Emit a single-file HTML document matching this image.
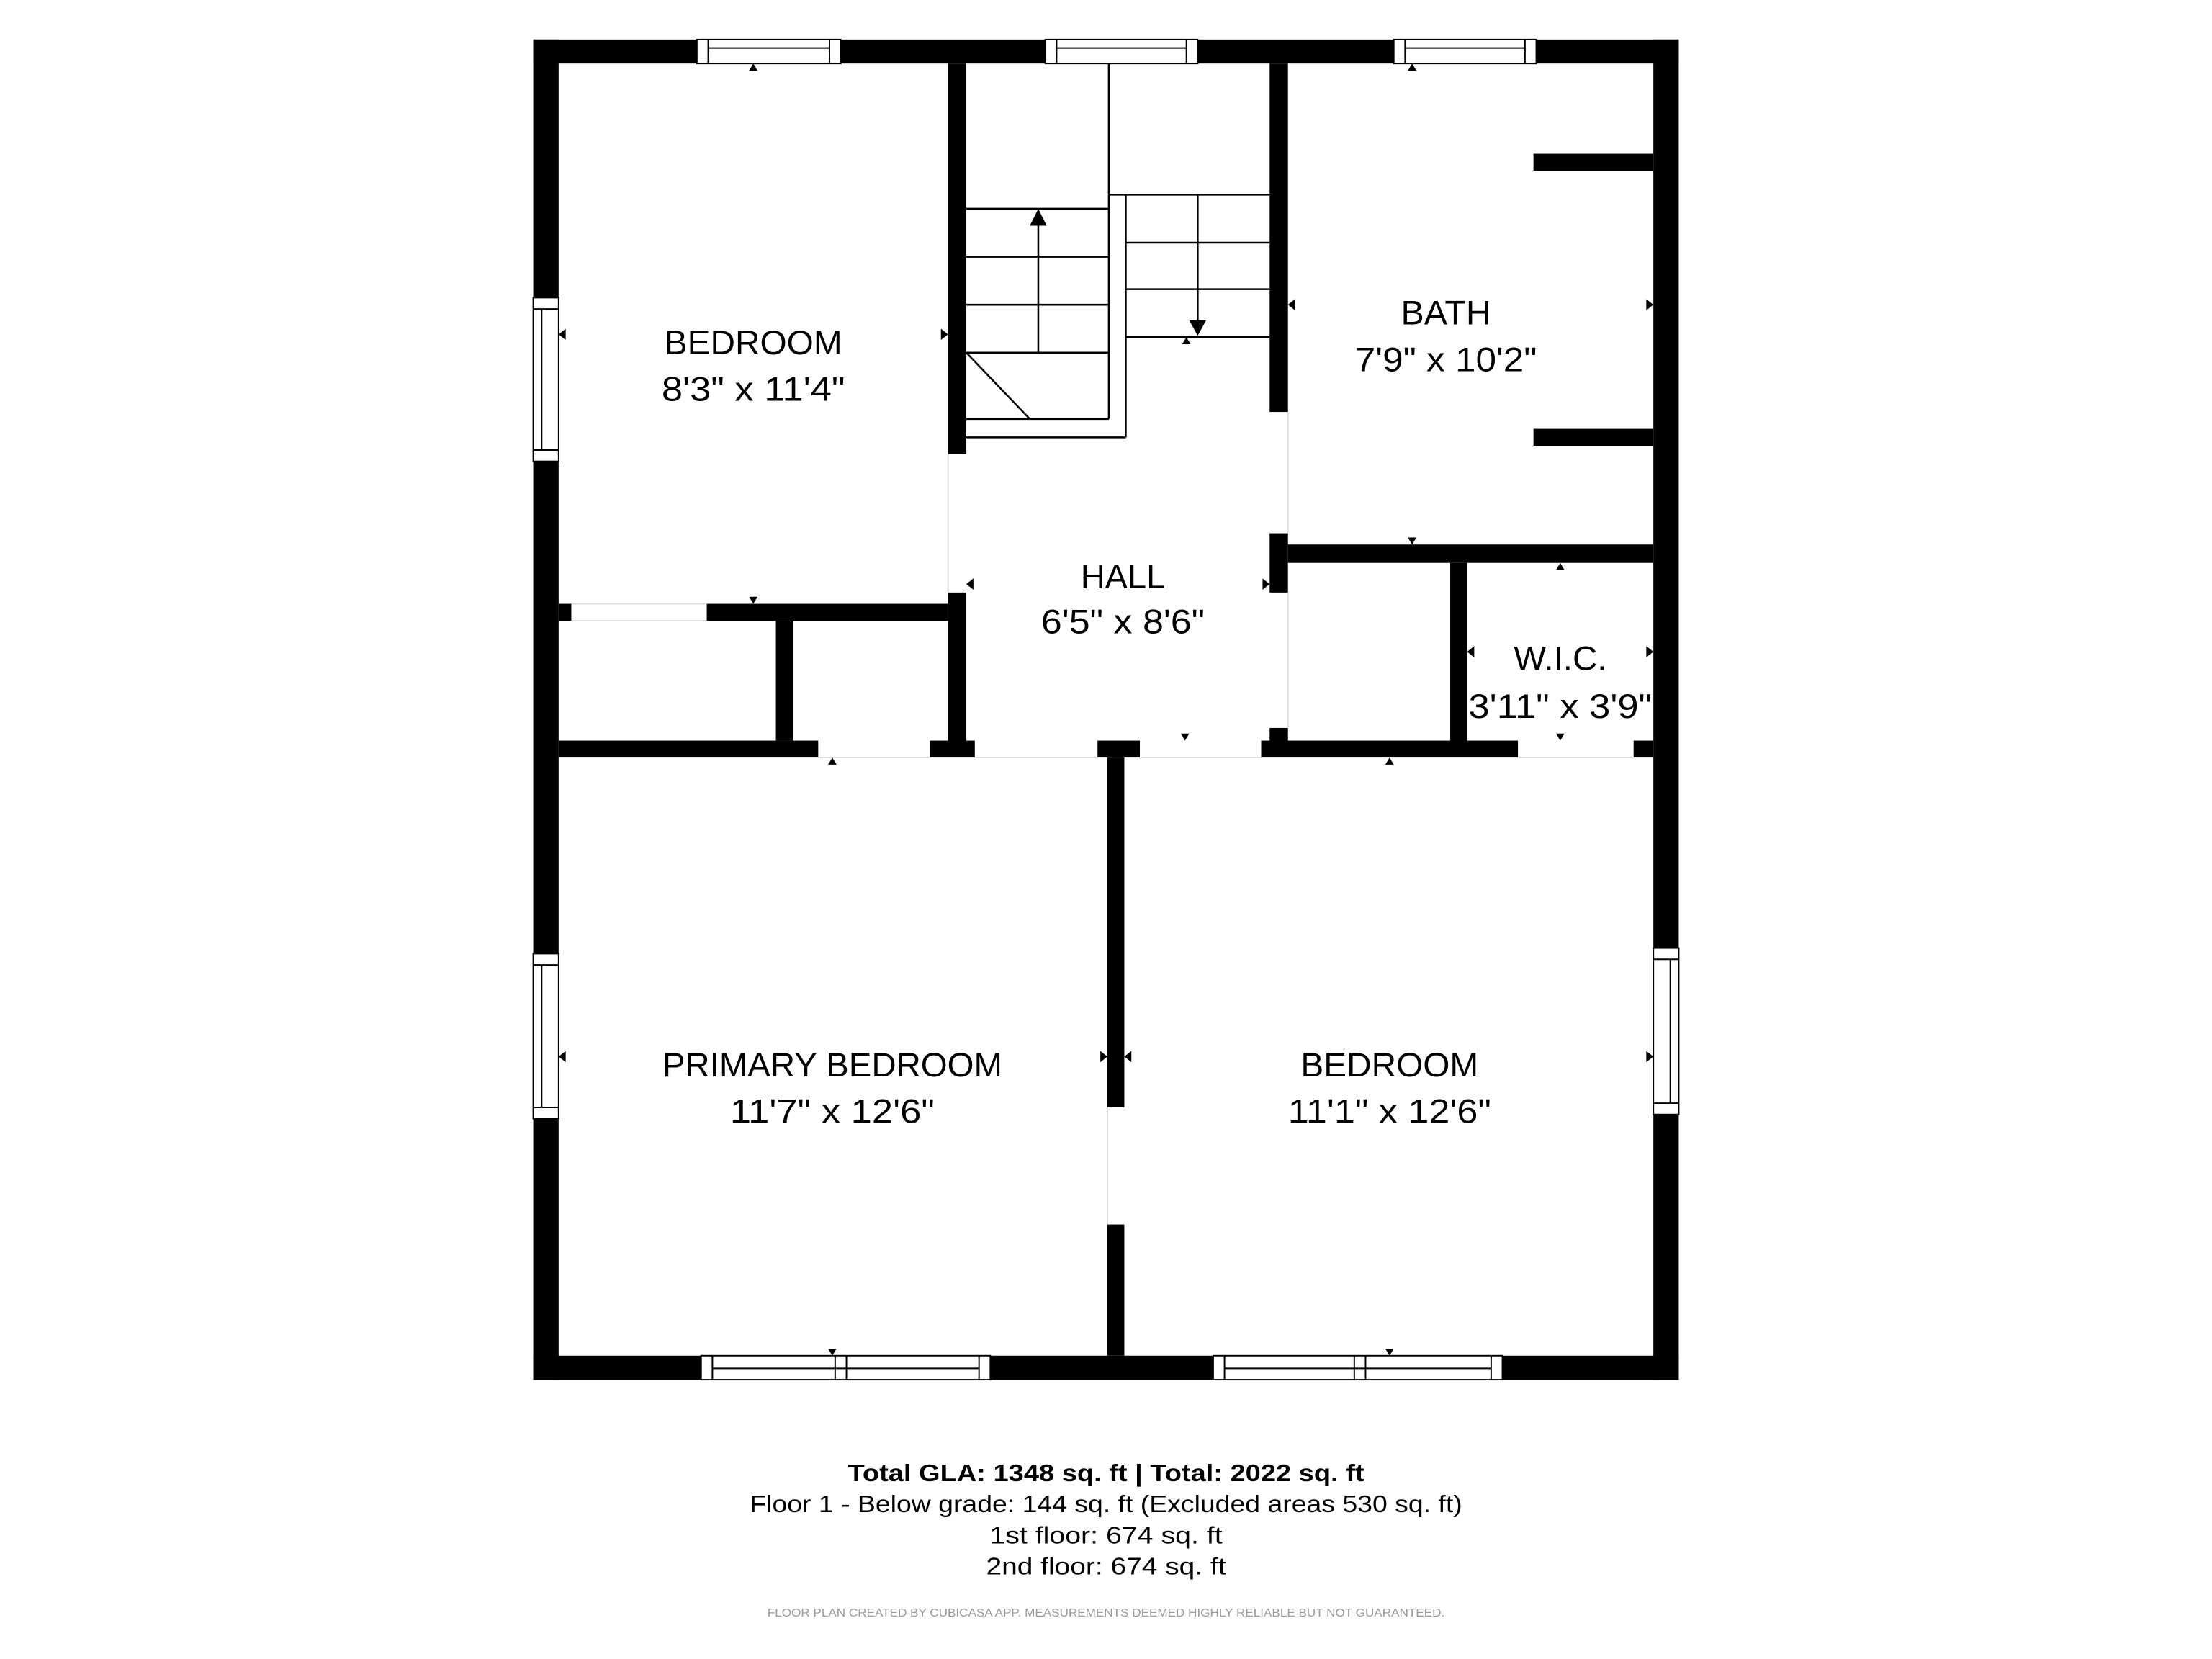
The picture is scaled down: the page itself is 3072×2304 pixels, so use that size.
<!DOCTYPE html>
<html><head><meta charset="utf-8"><style>
html,body{margin:0;padding:0;background:#fff;}
svg{display:block;}
</style></head><body>
<svg width="3072" height="2304" viewBox="0 0 1568 1176" xmlns="http://www.w3.org/2000/svg" font-family="Liberation Sans, sans-serif">
<rect width="1568" height="1176" fill="#fff"/>
<g fill="#000">
<!-- outer walls -->
<rect x="378" y="28" width="812" height="17"/>
<rect x="378" y="961" width="812" height="17"/>
<rect x="378" y="28" width="18" height="950"/>
<rect x="1172" y="28" width="18" height="950"/>
<!-- bedroom / stair wall -->
<rect x="672" y="45" width="13" height="277"/>
<rect x="672" y="420" width="13" height="107"/>
<!-- stair/hall right wall -->
<rect x="900" y="45" width="13" height="247"/>
<rect x="900" y="378" width="13" height="42"/>
<rect x="900" y="516" width="13" height="11"/>
<!-- bath bottom wall -->
<rect x="913" y="386" width="259" height="13"/>
<!-- bath stubs -->
<rect x="1087" y="109" width="85" height="12"/>
<rect x="1087" y="304" width="85" height="12"/>
<!-- WIC left -->
<rect x="1028" y="399" width="12" height="128"/>
<!-- middle horizontal wall -->
<rect x="396" y="525" width="184" height="12"/>
<rect x="659" y="525" width="32" height="12"/>
<rect x="778" y="525" width="30" height="12"/>
<rect x="894" y="525" width="182" height="12"/>
<rect x="1158" y="525" width="14" height="12"/>
<!-- bedroom bottom wall -->
<rect x="396" y="428" width="9" height="12"/>
<rect x="501" y="428" width="171" height="12"/>
<!-- closet divider -->
<rect x="550" y="440" width="12" height="85"/>
<!-- primary/bedroom divider -->
<rect x="785" y="537" width="12" height="248"/>
<rect x="785" y="868" width="12" height="93"/>
</g>
<!-- door gap thin lines -->
<g stroke="#ddd" stroke-width="1" fill="none">
<line x1="405" y1="428" x2="501" y2="428"/><line x1="405" y1="440" x2="501" y2="440"/>
<line x1="580" y1="537" x2="659" y2="537"/><line x1="691" y1="537" x2="778" y2="537"/>
<line x1="808" y1="537" x2="894" y2="537"/><line x1="1076" y1="537" x2="1158" y2="537"/>
<line x1="672" y1="322" x2="672" y2="420"/><line x1="913" y1="292" x2="913" y2="378"/>
<line x1="913" y1="420" x2="913" y2="516"/><line x1="785" y1="785" x2="785" y2="868"/>
</g>
<!-- windows -->
<g fill="#fff" stroke="#000" stroke-width="1">
<rect x="494" y="28" width="102" height="17"/><line x1="502" y1="28" x2="502" y2="45"/><line x1="588" y1="28" x2="588" y2="45"/><line x1="502" y1="34" x2="588" y2="34"/>
<rect x="741" y="28" width="108" height="17"/><line x1="749" y1="28" x2="749" y2="45"/><line x1="841" y1="28" x2="841" y2="45"/><line x1="749" y1="34" x2="841" y2="34"/>
<rect x="988" y="28" width="101" height="17"/><line x1="996" y1="28" x2="996" y2="45"/><line x1="1081" y1="28" x2="1081" y2="45"/><line x1="996" y1="34" x2="1081" y2="34"/>
<rect x="378" y="211" width="18" height="116"/><line x1="378" y1="219" x2="396" y2="219"/><line x1="378" y1="319" x2="396" y2="319"/><line x1="384" y1="219" x2="384" y2="319"/>
<rect x="378" y="676" width="18" height="117"/><line x1="378" y1="684" x2="396" y2="684"/><line x1="378" y1="785" x2="396" y2="785"/><line x1="384" y1="684" x2="384" y2="785"/>
<rect x="1172" y="672" width="18" height="118"/><line x1="1172" y1="680" x2="1190" y2="680"/><line x1="1172" y1="782" x2="1190" y2="782"/><line x1="1184" y1="680" x2="1184" y2="782"/>
<rect x="497" y="961" width="205" height="17"/><line x1="505" y1="961" x2="505" y2="978"/><line x1="694" y1="961" x2="694" y2="978"/><line x1="592" y1="961" x2="592" y2="978"/><line x1="600" y1="961" x2="600" y2="978"/><line x1="505" y1="970" x2="694" y2="970"/>
<rect x="860" y="961" width="205" height="17"/><line x1="868" y1="961" x2="868" y2="978"/><line x1="1057" y1="961" x2="1057" y2="978"/><line x1="960" y1="961" x2="960" y2="978"/><line x1="968" y1="961" x2="968" y2="978"/><line x1="868" y1="970" x2="1057" y2="970"/>
</g>
<!-- stairs -->
<g stroke="#000" stroke-width="1.3" fill="none">
<line x1="786" y1="45" x2="786" y2="138"/>
<line x1="786" y1="138" x2="900" y2="138"/>
<line x1="685" y1="148" x2="786" y2="148"/>
<line x1="685" y1="182" x2="786" y2="182"/>
<line x1="685" y1="216" x2="786" y2="216"/>
<line x1="685" y1="250" x2="786" y2="250"/>
<line x1="685" y1="297" x2="786" y2="297"/>
<line x1="685" y1="310" x2="798" y2="310"/>
<line x1="786" y1="138" x2="786" y2="297"/>
<line x1="798" y1="138" x2="798" y2="310"/>
<line x1="685" y1="250" x2="730" y2="297"/>
<line x1="736" y1="250" x2="736" y2="158"/>
<line x1="798" y1="172" x2="900" y2="172"/>
<line x1="798" y1="205" x2="900" y2="205"/>
<line x1="798" y1="239" x2="900" y2="239"/>
<line x1="849" y1="138" x2="849" y2="228"/>
</g>
<g fill="#000">
<polygon points="730,160 742,160 736,148"/>
<polygon points="843,227 855,227 849,238"/>
<!-- small markers -->
<polygon points="531,50 537,50 534,45"/>
<polygon points="998,50 1004,50 1001,45"/>
<polygon points="401,233 401,241 396,237"/>
<polygon points="667,233 667,241 672,237"/>
<polygon points="531,423 537,423 534,428"/>
<polygon points="918,212 918,220 913,216"/>
<polygon points="1167,212 1167,220 1172,216"/>
<polygon points="998,381 1004,381 1001,386"/>
<polygon points="838,244 844,244 841,239"/>
<polygon points="690,410 690,418 685,414"/>
<polygon points="895,410 895,418 900,414"/>
<polygon points="837,520 843,520 840,525"/>
<polygon points="1103,404 1109,404 1106,399"/>
<polygon points="1045,458 1045,466 1040,462"/>
<polygon points="1167,458 1167,466 1172,462"/>
<polygon points="1103,520 1109,520 1106,525"/>
<polygon points="587,542 593,542 590,537"/>
<polygon points="982,542 988,542 985,537"/>
<polygon points="401,745 401,753 396,749"/>
<polygon points="780,745 780,753 785,749"/>
<polygon points="802,745 802,753 797,749"/>
<polygon points="1167,745 1167,753 1172,749"/>
<polygon points="587,956 593,956 590,961"/>
<polygon points="982,956 988,956 985,961"/>
</g>
<!-- labels -->
<g fill="#000" font-size="24" text-anchor="middle">
<text x="534" y="251" textLength="126" lengthAdjust="spacingAndGlyphs">BEDROOM</text>
<text x="534" y="284" textLength="130" lengthAdjust="spacingAndGlyphs">8'3" x 11'4"</text>
<text x="1025" y="230" textLength="64" lengthAdjust="spacingAndGlyphs">BATH</text>
<text x="1025" y="263" textLength="129" lengthAdjust="spacingAndGlyphs">7'9" x 10'2"</text>
<text x="796" y="417" textLength="60" lengthAdjust="spacingAndGlyphs">HALL</text>
<text x="796" y="449" textLength="116" lengthAdjust="spacingAndGlyphs">6'5" x 8'6"</text>
<text x="1106" y="475" textLength="66" lengthAdjust="spacingAndGlyphs">W.I.C.</text>
<text x="1106" y="509" textLength="130" lengthAdjust="spacingAndGlyphs">3'11" x 3'9"</text>
<text x="590" y="763" textLength="241" lengthAdjust="spacingAndGlyphs">PRIMARY BEDROOM</text>
<text x="590" y="796" textLength="145" lengthAdjust="spacingAndGlyphs">11'7" x 12'6"</text>
<text x="985" y="763" textLength="126" lengthAdjust="spacingAndGlyphs">BEDROOM</text>
<text x="985" y="796" textLength="144" lengthAdjust="spacingAndGlyphs">11'1" x 12'6"</text>
</g>
<g fill="#000" text-anchor="middle" font-size="17">
<text x="784" y="1050" font-weight="bold" textLength="366" lengthAdjust="spacingAndGlyphs">Total GLA: 1348 sq. ft | Total: 2022 sq. ft</text>
<text x="784" y="1072" textLength="505" lengthAdjust="spacingAndGlyphs">Floor 1 - Below grade: 144 sq. ft (Excluded areas 530 sq. ft)</text>
<text x="784" y="1094" textLength="165" lengthAdjust="spacingAndGlyphs">1st floor: 674 sq. ft</text>
<text x="784" y="1116" textLength="170" lengthAdjust="spacingAndGlyphs">2nd floor: 674 sq. ft</text>
<text x="784" y="1146" font-size="8" fill="#999" textLength="480" lengthAdjust="spacingAndGlyphs">FLOOR PLAN CREATED BY CUBICASA APP. MEASUREMENTS DEEMED HIGHLY RELIABLE BUT NOT GUARANTEED.</text>
</g>
</svg>
</body></html>
